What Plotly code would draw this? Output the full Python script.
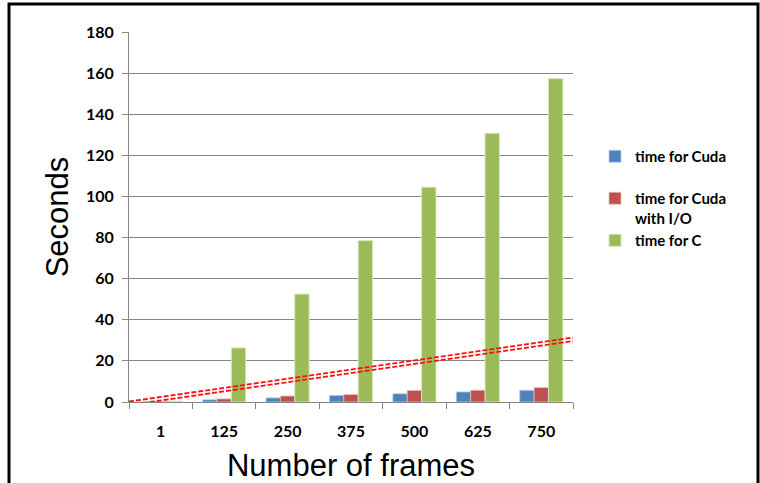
import plotly.graph_objects as go

# Frame counts and timings (seconds)
frames = ["1", "125", "250", "375", "500", "625", "750"]
time_cuda = [0.05, 1.1, 2.0, 3.2, 4.0, 4.9, 5.7]
time_cuda_io = [0.1, 1.5, 2.9, 3.6, 5.6, 5.7, 7.0]
time_c = [0.4, 26.3, 52.5, 78.5, 104.5, 130.7, 157.3]

# Linear trend (value at the left and right edges of the plot)
trend_x = [-0.5, 6.5]
trend_y = [-0.6, 30.5]
trend_offset = 0.85  # half spacing of the double dashed stroke

y_ticks = [0, 20, 40, 60, 80, 100, 120, 140, 160, 180]

BLUE = "#4F81BD"
RED = "#C0504D"
GREEN = "#9BBB59"
GRID = "#868686"

tick_font = dict(family="Lato", size=16, color="#000000", weight="bold")
title_font = dict(family="Liberation Sans", size=31, color="#000000")

fig = go.Figure()
fig.add_trace(go.Bar(
    x=frames, y=time_cuda, name="time for Cuda<br> ",
    marker=dict(color=BLUE, line=dict(color="#B9CDE5", width=0.8)),
))
fig.add_trace(go.Bar(
    x=frames, y=time_cuda_io, name="time for Cuda<br>with I/O",
    marker=dict(color=RED, line=dict(color="#E6B9B8", width=0.8)),
))
fig.add_trace(go.Bar(
    x=frames, y=time_c, name="time for C",
    marker=dict(color=GREEN, line=dict(color="#D7E4BD", width=1)),
))

for sgn in (-1, 1):
    fig.add_trace(go.Scatter(
        x=trend_x, y=[v + sgn * trend_offset for v in trend_y],
        xaxis="x2", mode="lines", showlegend=False, hoverinfo="skip",
        line=dict(color="#FF1010", width=1.8, dash="5px,2px"),
    ))

L, R, T, B = 129, 187, 32, 81
PW, PH = 760 - L - R, 483 - T - B


def px(x):
    return (x - L) / PW


def py(y):
    return (483 - B - y) / PH


fig.update_layout(
    width=760, height=483,
    margin=dict(l=L, r=R, t=T, b=B, autoexpand=False),
    paper_bgcolor="white", plot_bgcolor="white",
    barmode="group", bargap=0.32, bargroupgap=0,
    showlegend=True,
    legend=dict(
        x=px(595), y=py(140), xanchor="left", yanchor="top",
        font=dict(family="Lato", size=15, color="#000000", weight="bold"),
        valign="top", traceorder="normal", itemclick=False,
        bgcolor="rgba(0,0,0,0)", tracegroupgap=0,
    ),
    xaxis=dict(
        type="category", tickson="boundaries", automargin=False,
        ticks="outside", ticklen=6, tickcolor=GRID, tickwidth=1,
        ticklabelstandoff=15,
        showline=True, linecolor=GRID, linewidth=1,
        showgrid=False, tickfont=tick_font,
        title=dict(text="Number of frames", font=title_font, standoff=17),
    ),
    xaxis2=dict(overlaying="x", range=[-0.5, 6.5], visible=False),
    yaxis=dict(
        range=[0, 180], tickvals=y_ticks, automargin=False,
        ticks="outside", ticklen=6, tickcolor=GRID, tickwidth=1,
        ticklabelstandoff=5,
        showline=True, linecolor=GRID, linewidth=1,
        showgrid=True, gridcolor=GRID, gridwidth=1,
        zeroline=False, tickfont=tick_font,
        title=dict(text="Seconds", font=title_font, standoff=8),
    ),
    shapes=[dict(
        type="rect", xref="paper", yref="paper",
        x0=px(9), x1=px(758), y0=py(4), y1=py(500),
        line=dict(color="#000000", width=3), fillcolor="rgba(0,0,0,0)",
        layer="above",
    )],
)

fig.write_html("out.html")
